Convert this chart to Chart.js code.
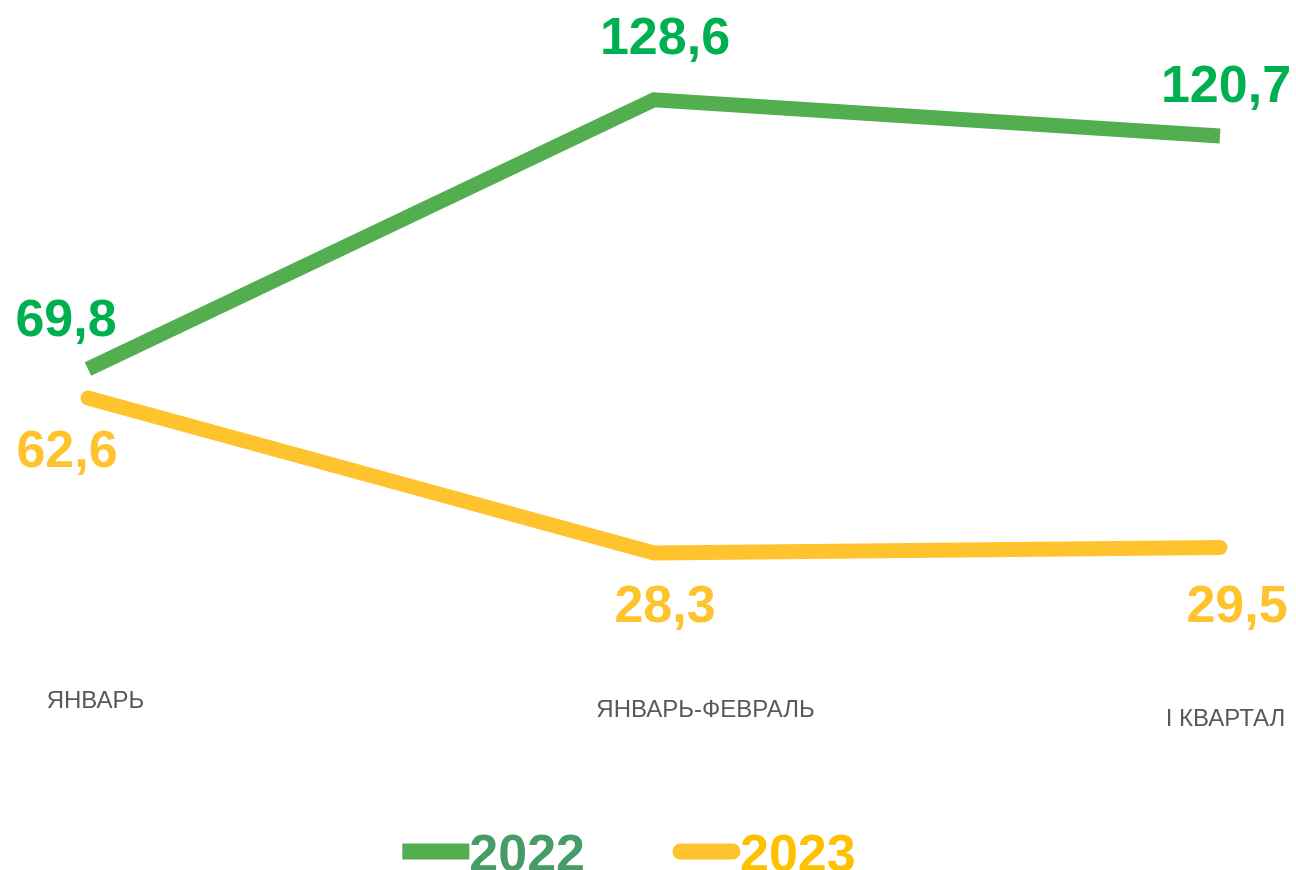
<!DOCTYPE html>
<html>
<head>
<meta charset="utf-8">
<script src="https://cdn.jsdelivr.net/npm/chart.js@4"></script>
<style>
    html, body { margin: 0; padding: 0; background: #fff; }
    #wrap { width: 1296px; height: 870px; position: relative; }
</style>
</head>
<body>
<div id="wrap"><canvas id="chart"></canvas></div>
<script>
// data
const categories = ['ЯНВАРЬ', 'ЯНВАРЬ-ФЕВРАЛЬ', 'I КВАРТАЛ'];
const series2022 = [69.8, 128.6, 120.7];
const series2023 = [62.6, 28.3, 29.5];
const seriesNames = ['2022', '2023'];

// label placement (relative to points / axis bottom)
const offsets2022 = [[-22, -33], [11, -46], [6, -34]];
const offsets2023 = [[-21, 69], [11, 69], [17, 74]];
const tickOffsets = [[7.5, 48], [51.5, 57], [5.5, 66]];

const fmt = v => v.toFixed(1).replace('.', ',');

// value labels next to points
const valueLabels = {
    id: 'valueLabels',
    afterDatasetsDraw(chart) {
        const ctx = chart.ctx;
        ctx.save();
        ctx.font = 'bold 52px "Liberation Sans", Arial, sans-serif';
        ctx.textAlign = 'center';
        ctx.textBaseline = 'alphabetic';
        chart.data.datasets.forEach((ds, di) => {
            const meta = chart.getDatasetMeta(di);
            const offs = di === 0 ? offsets2022 : offsets2023;
            ctx.fillStyle = ds.labelColor;
            meta.data.forEach((pt, i) => {
                ctx.fillText(fmt(ds.data[i]), pt.x + offs[i][0], pt.y + offs[i][1]);
            });
        });
        ctx.restore();
    }
};

// staggered category labels under the lines
const categoryLabels = {
    id: 'categoryLabels',
    afterDraw(chart) {
        const ctx = chart.ctx;
        const xScale = chart.scales.x;
        const bottom = chart.chartArea.bottom;
        ctx.save();
        ctx.font = '24px "Liberation Sans", Arial, sans-serif';
        ctx.fillStyle = '#595959';
        ctx.textAlign = 'center';
        ctx.textBaseline = 'alphabetic';
        categories.forEach((c, i) => {
            const x = xScale.getPixelForValue(i);
            ctx.fillText(c, x + tickOffsets[i][0], bottom + tickOffsets[i][1]);
        });
        ctx.restore();
    }
};

// legend: line sample directly followed by year text
const lineLegend = {
    id: 'lineLegend',
    afterDraw(chart) {
        const ctx = chart.ctx;
        const lineLen = 67;
        const itemGap = 88;
        const y = 851.5;
        ctx.save();
        ctx.font = 'bold 52px "Liberation Sans", Arial, sans-serif';
        ctx.textBaseline = 'alphabetic';
        ctx.textAlign = 'left';
        const items = chart.data.datasets.map(ds => ({
            ds, w: lineLen + ctx.measureText(ds.label).width
        }));
        const total = items.reduce((s, it) => s + it.w, 0) + itemGap * (items.length - 1);
        let x = 629 - total / 2;
        items.forEach(it => {
            const ds = it.ds;
            const half = ds.borderCapStyle === 'round' ? ds.borderWidth / 2 : 0;
            ctx.strokeStyle = ds.borderColor;
            ctx.lineWidth = 16;
            ctx.lineCap = ds.borderCapStyle;
            ctx.beginPath();
            ctx.moveTo(x + half, y);
            ctx.lineTo(x + lineLen - half, y);
            ctx.stroke();
            ctx.fillStyle = ds.legendColor;
            ctx.fillText(ds.label, x + lineLen, 871);
            x += it.w + itemGap;
        });
        ctx.restore();
    }
};

const chart = new Chart(document.getElementById('chart'), {
    type: 'line',
    data: {
        labels: categories,
        datasets: [
            {
                label: seriesNames[0],
                data: series2022,
                borderColor: '#52AE4F',
                borderWidth: 15,
                borderCapStyle: 'butt',
                borderJoinStyle: 'miter',
                labelColor: '#00B050',
                legendColor: '#469B69',
                pointRadius: 0,
                tension: 0,
                clip: false,
                yAxisID: 'y'
            },
            {
                label: seriesNames[1],
                data: series2023,
                borderColor: '#FFC32E',
                borderWidth: 15,
                borderCapStyle: 'round',
                borderJoinStyle: 'miter',
                labelColor: '#FFC32E',
                legendColor: '#FFC000',
                pointRadius: 0,
                tension: 0,
                clip: false,
                yAxisID: 'y2'
            }
        ]
    },
    options: {
        responsive: true,
        maintainAspectRatio: false,
        animation: false,
        layout: { padding: { top: 60, bottom: 210, left: 88, right: 76 } },
        plugins: {
            legend: { display: false },
            tooltip: { enabled: false }
        },
        scales: {
            x: { display: false, offset: false },
            y: { display: false, min: 6.2, max: 137.3 },
            y2: { display: false, min: 4.6, max: 137.4 }
        }
    },
    plugins: [valueLabels, categoryLabels, lineLegend]
});
</script>
</body>
</html>
